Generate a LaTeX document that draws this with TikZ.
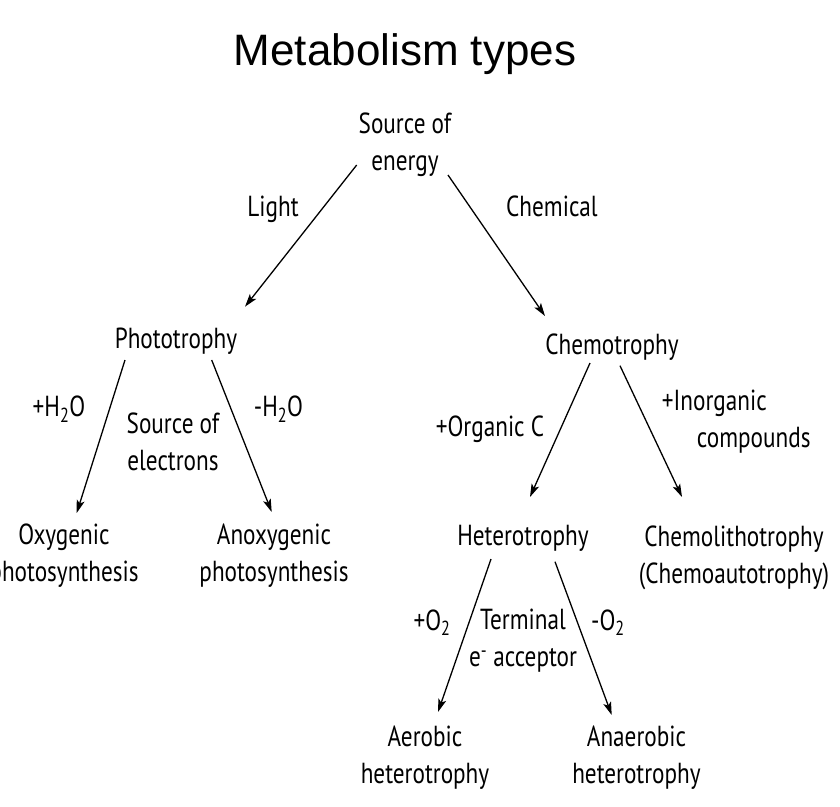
\documentclass[tikz,border=0pt]{standalone}
\usepackage{fontspec}
\setmainfont[FakeStretch=0.8]{PT Sans}
\newfontfamily\titlefont{Liberation Sans}
\usetikzlibrary{arrows.meta,calc}

\begin{document}
\begin{tikzpicture}[x=1pt,y=-1pt,>={Stealth[length=13pt,width=8pt,inset=3pt]},
   every node/.style={inner sep=0pt,align=center,anchor=base,
     font=\fontsize{29}{37}\selectfont},
   flow/.style={->,line width=1.3pt}]
  \useasboundingbox (0,0) rectangle (840,806);
  \node[font=\titlefont\fontsize{44}{50}\selectfont] (title) at (405,65) {Metabolism types};
  % levels of the tree (base = last line)
  \node (src)   at (405,170)   {Source of\\energy};
  \node (photo) at (176,348)   {Phototrophy};
  \node (chemo) at (612,354)   {Chemotrophy};
  \node (oxy)   at (64,581.7)  {Oxygenic\\photosynthesis};
  \node (anoxy) at (274,581.7) {Anoxygenic\\photosynthesis};
  \node (het)   at (523,545)   {Heterotrophy};
  \node (litho) at (734,583)   {Chemolithotrophy\\(Chemoautotrophy)};
  \node (aer)   at (425,783)   {Aerobic\\heterotrophy};
  \node (anaer) at (636.5,783) {Anaerobic\\heterotrophy};
  % labels
  \node (light)  at (273,216.7) {Light};
  \node (chem)   at (552,216.7) {Chemical};
  \node (plush)  at (59,416.7)  {+H\textsubscript{2}O};
  \node (elec)   at (173,470)   {Source of\\electrons};
  \node (minush) at (278.5,416.7) {-H\textsubscript{2}O};
  \node (orgc)   at (490,436)   {+Organic C};
  \node[align=left,anchor=base west] (inorg) at (661.7,447)
     {+Inorganic\\\hspace*{35pt}compounds};
  \node (pluso)  at (432,630)   {+O\textsubscript{2}};
  \node (term)   at (523,666.7) {Terminal\\e\textsuperscript{-} acceptor};
  \node (minuso) at (608,630)   {-O\textsubscript{2}};
  % arrows
  \draw[flow] ($(src.base)+(-48.3,-5)$)  -- ($(photo.base)+(69,-41.3)$);
  \draw[flow] ($(src.base)+(43,5)$)      -- ($(chemo.base)+(-67,-38)$);
  \draw[flow] ($(photo.base)+(-51,12)$)  -- ($(oxy.base)+(12.7,-68.7)$);
  \draw[flow] ($(photo.base)+(35.7,12)$) -- ($(anoxy.base)+(-2.3,-69.7)$);
  \draw[flow] ($(chemo.base)+(-22,9)$)   -- ($(het.base)+(7,-48)$);
  \draw[flow] ($(chemo.base)+(8,11.7)$)  -- ($(litho.base)+(-52,-86)$);
  \draw[flow] ($(het.base)+(-32,14)$)    -- ($(aer.base)+(13,-71)$);
  \draw[flow] ($(het.base)+(32,16.7)$)   -- ($(anaer.base)+(-24.8,-68)$);
\end{tikzpicture}
\end{document}
